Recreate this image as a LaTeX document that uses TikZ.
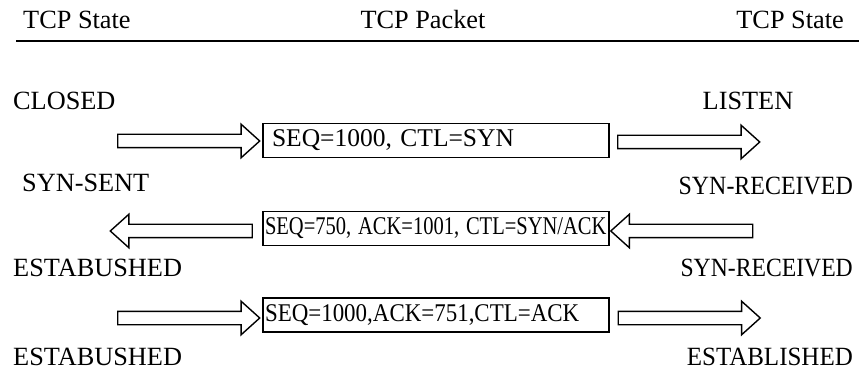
\documentclass[tikz,border=0pt]{standalone}
\usepackage{fontspec}
\setmainfont{Liberation Serif}
\usetikzlibrary{shapes.arrows}
\begin{document}
\begin{tikzpicture}[x=1pt,y=-1pt,
  lbl/.style={inner sep=0pt,font=\fontsize{26.3}{31}\selectfont},
  packet/.style={draw,line width=1.2pt,minimum width=346pt,minimum height=34pt,
    inner xsep=2pt,inner ysep=0pt,text width=342pt,align=left,
    font=\fontsize{25.5}{30}\selectfont},
  fat arrow/.style={single arrow,draw,fill=white,line width=1.4pt,
    minimum height=142pt,text height=0pt,text depth=0pt,inner xsep=0pt,
    inner ysep=6pt,single arrow head extend=10pt,single arrow tip angle=84},
  to left/.style={shape border rotate=180}]
\useasboundingbox (0,0) rectangle (859,371);

% column headings and rule
\node[lbl,anchor=west] (hl) at (23,20) {TCP State};
\node[lbl] (hc) at (423,20) {TCP Packet};
\node[lbl,anchor=east] (hr) at (844,20) {TCP State};
\coordinate (rl) at (16,41);
\coordinate (rr) at (859,41);
\draw[line width=2.4pt] (rl) -- (rr);

% client states
\node[lbl,anchor=west] (c0) at (13,101) {CLOSED};
\node[lbl,anchor=west] (c1) at (22,183) {SYN-SENT};
\node[lbl,anchor=west] (c2) at (13,268) {ESTABUSHED};
\node[lbl,anchor=west] (c3) at (13,357) {ESTABUSHED};

% server states
\node[lbl] (s0) at (748,101) {LISTEN};
\node[lbl,anchor=east] (s1) at (853,186) {\scalebox{0.91}[1]{SYN-RECEIVED}};
\node[lbl,anchor=east] (s2) at (853,268) {\scalebox{0.9}[1]{SYN-RECEIVED}};
\node[lbl,anchor=east] (s3) at (853,357) {\scalebox{0.95}[1]{ESTABLISHED}};

% packets
\node[packet] (p1) at (436,140.5) {\hspace{7pt}SEQ=1000, CTL=SYN};
\node[packet] (p2) at (436,228.5) {\scalebox{0.805}[1]{SEQ=750, ACK=1001, CTL=SYN/ACK}};
\node[packet] (p3) at (436,315) {\scalebox{0.9}[1]{SEQ=1000,ACK=751,CTL=ACK}};

% direction arrows
\node[fat arrow] (a1l) at (185,141) {};
\node[fat arrow] (a1r) at (685,142) {};
\node[fat arrow,to left] (a2l) at (185,231) {};
\node[fat arrow,to left] (a2r) at (685.5,231) {};
\node[fat arrow] (a3l) at (185,318) {};
\node[fat arrow] (a3r) at (685.5,318) {};
\end{tikzpicture}
\end{document}
